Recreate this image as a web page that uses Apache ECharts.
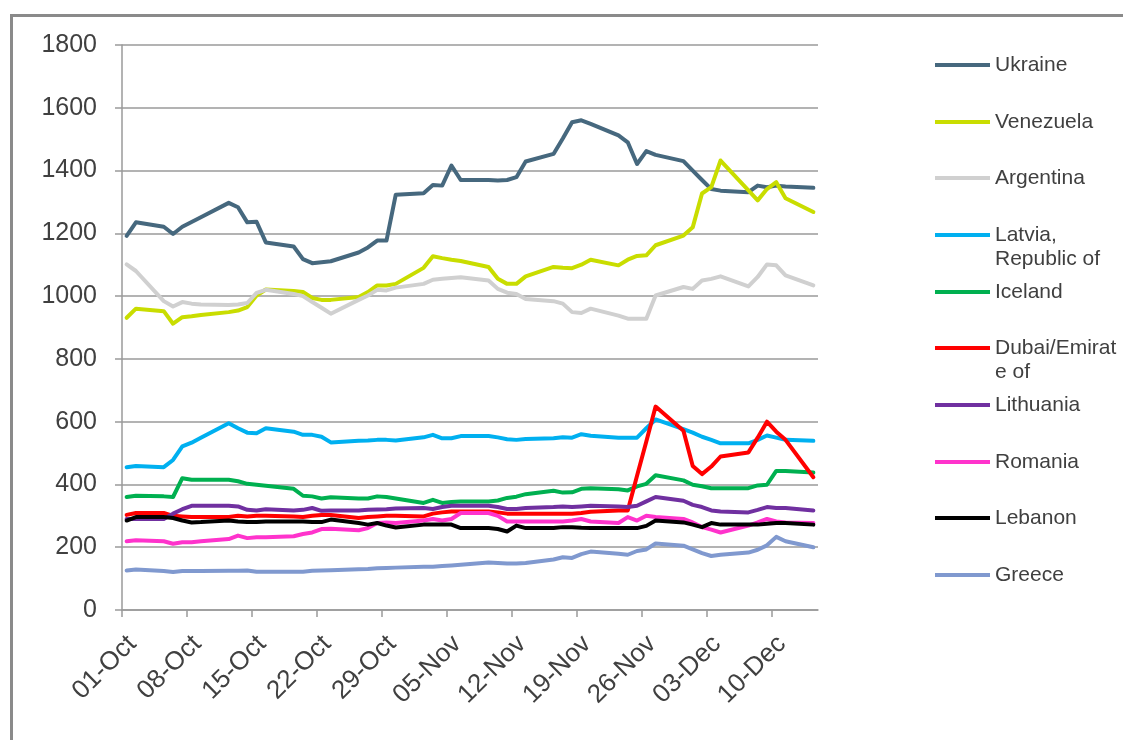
<!DOCTYPE html>
<html>
<head>
<meta charset="utf-8">
<script src="https://cdn.jsdelivr.net/npm/echarts@6/dist/echarts.min.js"></script>
<style>
html,body{margin:0;padding:0;background:#fff;}
#chart{width:1123px;height:740px;}
</style>
</head>
<body>
<div id="chart"></div>
<script>
// Trading dates (2009)
const dates = ['2009-10-01','2009-10-02','2009-10-05','2009-10-06','2009-10-07','2009-10-08','2009-10-09',
'2009-10-12','2009-10-13','2009-10-14','2009-10-15','2009-10-16','2009-10-19','2009-10-20','2009-10-21','2009-10-22','2009-10-23',
'2009-10-26','2009-10-27','2009-10-28','2009-10-29','2009-10-30','2009-11-02','2009-11-03','2009-11-04','2009-11-05','2009-11-06',
'2009-11-09','2009-11-10','2009-11-11','2009-11-12','2009-11-13','2009-11-16','2009-11-17','2009-11-18','2009-11-19','2009-11-20',
'2009-11-23','2009-11-24','2009-11-25','2009-11-26','2009-11-27','2009-11-30','2009-12-01','2009-12-02','2009-12-03','2009-12-04',
'2009-12-07','2009-12-08','2009-12-09','2009-12-10','2009-12-11','2009-12-14'];

const tickDates = ['2009-10-01','2009-10-08','2009-10-15','2009-10-22','2009-10-29','2009-11-05','2009-11-12','2009-11-19','2009-11-26','2009-12-03','2009-12-10'];
const tickLabels = ['01-Oct','08-Oct','15-Oct','22-Oct','29-Oct','05-Nov','12-Nov','19-Nov','26-Nov','03-Dec','10-Dec'];
const axisStart = '2009-10-01';
const axisEnd = '2009-12-16';

const ukraine = [1192,1235,1221,1198,1221,1236,1251,1297,1283,1235,1237,1171,1158,1118,1105,1108,1111,1139,1155,1177,1177,1323,1328,1354,1352,1416,1370,1370,1368,1370,1379,1429,1453,1502,1554,1560,1549,1512,1490,1421,1462,1450,1430,1400,1370,1341,1336,1331,1352,1347,1352,1349,1345];
const venezuela = [931,960,952,912,933,936,940,949,954,965,1002,1021,1016,1013,994,988,988,997,1013,1034,1034,1039,1090,1127,1121,1116,1112,1093,1055,1039,1039,1063,1093,1090,1089,1100,1116,1098,1116,1128,1130,1162,1193,1219,1327,1347,1432,1337,1305,1341,1363,1312,1268];
const argentina = [1101,1080,984,967,981,976,973,972,973,978,1010,1020,1007,1000,981,963,944,988,1002,1020,1018,1027,1039,1052,1055,1058,1060,1050,1023,1011,1007,991,984,976,949,946,960,938,928,928,928,1002,1029,1023,1050,1055,1063,1031,1061,1101,1098,1066,1034];
const latvia = [455,459,455,478,521,533,549,595,579,565,563,579,568,558,558,552,534,539,540,542,542,540,550,558,547,547,554,554,550,544,542,545,547,550,549,560,555,549,549,549,579,607,576,565,552,542,531,531,542,556,549,542,539];
const iceland = [360,364,362,360,420,415,415,415,410,402,399,396,386,364,362,355,359,355,355,362,360,355,341,351,341,344,346,346,349,357,361,369,380,374,375,386,388,385,381,394,402,429,413,399,394,388,388,388,397,399,443,443,438];
const dubai = [303,309,309,300,298,296,296,296,300,298,300,300,298,296,300,303,303,293,296,298,300,300,298,307,311,314,314,314,311,307,307,307,307,307,307,309,313,317,317,428,537,648,571,459,433,457,489,502,549,600,568,542,423];
const lithuania = [290,290,290,307,321,332,332,332,330,319,317,321,317,319,325,316,317,317,319,320,321,323,325,322,328,332,332,332,328,322,322,325,328,330,328,330,332,330,328,332,346,360,348,335,328,317,314,311,319,328,325,325,317];
const romania = [219,222,219,211,216,216,219,226,237,229,232,232,235,242,247,258,259,254,261,277,279,277,285,290,285,290,309,309,300,282,282,282,282,282,285,290,282,277,296,285,300,296,290,279,264,256,247,269,279,290,282,279,277];
const lebanon = [285,296,296,293,285,279,280,285,282,280,280,282,282,282,280,280,288,277,272,277,269,263,272,272,272,272,261,261,258,250,269,261,261,264,264,262,261,261,261,261,268,285,279,272,264,277,272,272,272,275,277,277,272];
const greece = [126,129,124,121,124,124,124,125,125,126,122,122,122,122,125,126,127,130,131,133,134,135,138,138,140,142,144,151,150,148,148,150,161,168,166,178,186,179,176,188,193,212,205,193,181,172,176,183,192,206,233,219,200];

const seriesNames = ['Ukraine','Venezuela','Argentina','Latvia, Republic of','Iceland','Dubai/Emirate of','Lithuania','Romania','Lebanon','Greece'];
const legendLines = [['Ukraine'],['Venezuela'],['Argentina'],['Latvia,','Republic of'],['Iceland'],['Dubai/Emirat','e of'],['Lithuania'],['Romania'],['Lebanon'],['Greece']];
const seriesValues = [ukraine, venezuela, argentina, latvia, iceland, dubai, lithuania, romania, lebanon, greece];
const colors = ['#46687E','#C9DD00','#D0D0D0','#00B0F0','#00B050','#FF0000','#7030A0','#FF33CC','#000000','#8099CF'];
const legendY = [65,122,178,235,292,348,405,462,518,575];

const DAY = 86400000;
const dayOf = s => (Date.parse(s + 'T00:00:00Z') - Date.parse(axisStart + 'T00:00:00Z')) / DAY;
const tickDays = tickDates.map(dayOf);
// rotated labels sit slightly right of their tick (as in the original layout)
const LABEL_SHIFT = 1.1;
const labelDays = tickDays.map(d => d + LABEL_SHIFT);
const labelFor = v => {
  const i = tickDays.indexOf(Math.round(v - LABEL_SHIFT));
  return i >= 0 ? tickLabels[i] : '';
};

const font = 'Liberation Sans, Arial, sans-serif';
const textColor = '#404040';
const gridColor = '#9a9a9a';

const series = seriesNames.map((name, i) => ({
  name: name,
  type: 'line',
  showSymbol: false,
  symbol: 'none',
  smooth: false,
  lineStyle: { width: 4, color: colors[i], join: 'round', cap: 'round' },
  itemStyle: { color: colors[i] },
  emphasis: { disabled: true },
  data: dates.map((d, j) => [dayOf(d) + 0.5, seriesValues[i][j]])
}));

const legends = seriesNames.map((name, i) => {
  const lines = legendLines[i];
  const twoLine = lines.length > 1;
  // for two-line items, a blank leading line keeps the first text line level with the icon
  const text = twoLine ? ' \n' + lines.join('\n') : lines[0];
  return {
    data: [name],
    left: 930,
    top: twoLine ? legendY[i] - 36 - 5 : legendY[i] - 12 - 5,
    itemWidth: 55,
    itemHeight: 14,
    icon: 'path://M0,5 L55,5 L55,9 L0,9 Z',
    selectedMode: false,
    formatter: () => text,
    textStyle: { fontSize: 21, color: textColor, fontFamily: font, lineHeight: 24 }
  };
});

const chart = echarts.init(document.getElementById('chart'), null, { renderer: 'canvas' });
chart.setOption({
  animation: false,
  backgroundColor: '#ffffff',
  color: colors,
  grid: { left: 122, top: 45, width: 696, height: 565, containLabel: false },
  legend: legends,
  xAxis: {
    type: 'value',
    min: dayOf(axisStart),
    max: dayOf(axisEnd) - 1,
    axisLine: { show: true, onZero: false, lineStyle: { color: gridColor, width: 1.5 } },
    axisTick: { show: true, customValues: tickDays, length: 7, lineStyle: { color: gridColor, width: 1.5 } },
    axisLabel: {
      customValues: labelDays,
      rotate: 45,
      margin: 30,
      fontSize: 26,
      color: textColor,
      fontFamily: font,
      formatter: labelFor
    },
    splitLine: { show: false }
  },
  yAxis: {
    type: 'value',
    min: 0,
    max: 1800,
    interval: 200,
    axisLine: { show: true, lineStyle: { color: gridColor, width: 1.5 } },
    axisTick: { show: true, length: 7, lineStyle: { color: gridColor, width: 1.5 } },
    axisLabel: { margin: 25, fontSize: 25, color: textColor, fontFamily: font, formatter: v => String(v) },
    splitLine: { show: true, lineStyle: { color: gridColor, width: 1.5 } }
  },
  graphic: [{
    type: 'rect',
    left: 9, top: 13,
    shape: { width: 1200, height: 800 },
    style: { fill: 'none', stroke: '#8a8a8a', lineWidth: 3 },
    silent: true,
    z: -1
  }],
  series: series
});
</script>
</body>
</html>
